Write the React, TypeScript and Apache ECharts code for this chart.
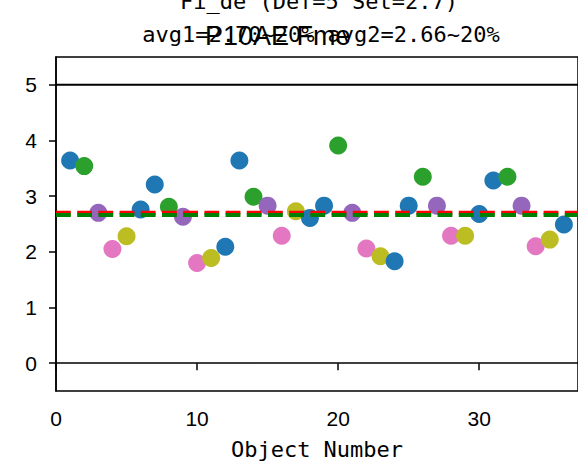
import React, { useEffect, useRef } from "react";
import * as echarts from "echarts";

const objectNumbers = [
  1, 2, 3, 4, 5, 6, 7, 8, 9, 10, 11, 12, 13, 14, 15, 16, 17, 18,
  19, 20, 21, 22, 23, 24, 25, 26, 27, 28, 29, 30, 31, 32, 33, 34, 35, 36,
];
const values = [
  3.64, 3.54, 2.70, 2.05, 2.28, 2.76,
  3.21, 2.81, 2.63, 1.80, 1.89, 2.09,
  3.64, 2.99, 2.83, 2.29, 2.73, 2.61,
  2.83, 3.91, 2.70, 2.06, 1.92, 1.83,
  2.83, 3.35, 2.83, 2.29, 2.29, 2.68,
  3.28, 3.35, 2.83, 2.10, 2.22, 2.49,
];
const groupColors = ["#1f77b4", "#2ca02c", "#9467bd", "#e377c2", "#bcbd22", "#1f77b4"];

const defValue = 5;
const avg1 = 2.7;
const avg2 = 2.66;
const xRange = [0, 37];
const yRange = [-0.5, 5.5];
const xTicks = [0, 10, 20, 30];
const yTicks = [0, 1, 2, 3, 4, 5];

const titleLine1 = "Fi_de (Def=5 Set=2.7)";
const titleLine2 = "avg1=2.70~20% avg2=2.66~20%";
const overlayText = "P10AE Fme";
const xName = "Object Number";

const MONO = "'DejaVu Sans Mono', monospace";
const SANS = "'Liberation Sans', Arial, sans-serif";

export default function App() {
  const ref = useRef<HTMLDivElement>(null);

  useEffect(() => {
    if (!ref.current) return;
    const chart = echarts.init(ref.current, undefined, { renderer: "svg" });
    const axisLineStyle = { color: "#000", width: 1.5 };
    const option: any = {
      animation: false,
      backgroundColor: "#fff",
      grid: {
        left: 56,
        top: 57,
        width: 525,
        height: 334,
        show: true,
        borderColor: "#000",
        borderWidth: 1.5,
        backgroundColor: "transparent",
      },
      xAxis: {
        type: "value",
        min: xRange[0],
        max: xRange[1],
        name: xName,
        nameLocation: "middle",
        nameGap: 47,
        nameTextStyle: { fontFamily: MONO, fontSize: 22, color: "#000" },
        axisLine: { show: true, lineStyle: axisLineStyle },
        axisTick: { show: true, length: 7, lineStyle: axisLineStyle, customValues: xTicks },
        axisLabel: {
          customValues: xTicks,
          fontFamily: SANS,
          fontSize: 21,
          color: "#000",
          margin: 17,
        },
        splitLine: { show: false },
      },
      yAxis: {
        type: "value",
        min: yRange[0],
        max: yRange[1],
        axisLine: { show: true, lineStyle: axisLineStyle },
        axisTick: { show: true, length: 7, lineStyle: axisLineStyle, customValues: yTicks },
        axisLabel: {
          customValues: yTicks,
          fontFamily: SANS,
          fontSize: 21,
          color: "#000",
          margin: 19,
        },
        splitLine: { show: false },
      },
      series: [
        {
          type: "scatter",
          data: objectNumbers.map((x, i) => ({
            value: [x, values[i]],
            itemStyle: { color: groupColors[i % groupColors.length], opacity: 1 },
          })),
          symbolSize: 18,
          itemStyle: { opacity: 1 },
          z: 2,
        },
        {
          type: "line",
          data: [[xRange[0], defValue], [xRange[1], defValue]],
          symbol: "none",
          lineStyle: { color: "#000", width: 2 },
          z: 3,
        },
        {
          type: "line",
          data: [[xRange[0], avg1], [xRange[1], avg1]],
          symbol: "none",
          lineStyle: { color: "#ff0000", width: 4, type: [14.8, 6.4] },
          z: 4,
        },
        {
          type: "line",
          data: [[xRange[0], avg2], [xRange[1], avg2]],
          symbol: "none",
          lineStyle: { color: "#008000", width: 4, type: [14.8, 6.4] },
          z: 5,
        },
      ],
      graphic: [
        {
          type: "text",
          x: 319,
          y: 1,
          style: {
            text: titleLine1,
            fontFamily: MONO,
            fontSize: 22,
            fill: "#000",
            align: "center",
            verticalAlign: "middle",
          },
        },
        {
          type: "text",
          x: 321,
          y: 34,
          style: {
            text: titleLine2,
            fontFamily: MONO,
            fontSize: 22,
            fill: "#000",
            align: "center",
            verticalAlign: "middle",
          },
        },
        {
          type: "text",
          x: 205,
          y: 36,
          style: {
            text: overlayText,
            fontFamily: SANS,
            fontSize: 27,
            fill: "#000",
            align: "left",
            verticalAlign: "middle",
          },
        },
      ],
    };
    chart.setOption(option);
    return () => chart.dispose();
  }, []);

  return (
    <div
      ref={ref}
      style={{ position: "fixed", left: 0, top: 0, width: 578, height: 466, background: "#fff" }}
    />
  );
}
